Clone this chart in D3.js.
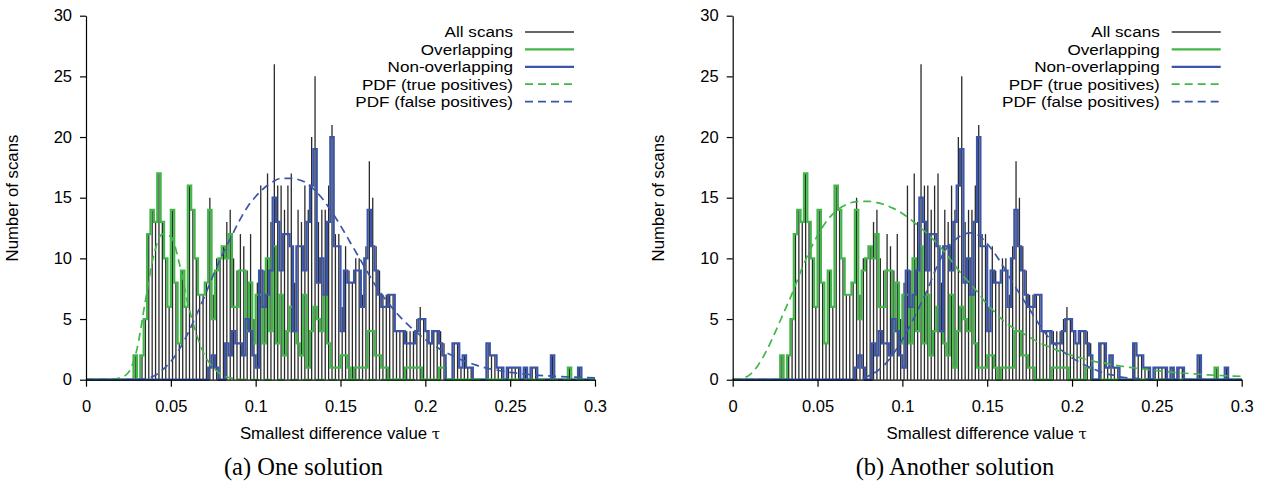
<!DOCTYPE html>
<html><head><meta charset="utf-8">
<script src="https://cdn.jsdelivr.net/npm/d3@7"></script>
<style>
body{margin:0;background:#fff;}
svg{display:block;}
</style></head>
<body>
<svg id="c" width="1269" height="482"></svg>
<script>
// ---- histogram bins (0.002 wide, first bin starts at 0.026) ----
const binStart = 0.026;
const binWidth = 0.002;

// Overlapping scans per bin
const overlapping = [
 0,2,0,2,5,12,14,13,17,13,
 10,6,14,8,3,9,6,16,14,10,
 7,7,8,14,5,9,10,11,10,12,
 6,6,9,9,4,8,3,7,7,3,
 10,4,11,3,7,2,4,6,4,3,
 2,7,1,4,6,5,4,7,3,1,
 1,1,2,2,1,0,1,1,1,1,
 4,4,2,2,1,1,0,0,0,0,
 0,1,1,1,1,1,0,0,0,0,
 0,1,1,0,0,0,0,0,0,0,
 0,0,0,0,0,0,0,0,0,0,
 0,0,0,0,0,0,0,0,0,0,
 0,0,0,0,0,0,0,0,0,1,
 0,0,0,0];
// Non-overlapping scans per bin
const nonOverlapping = [
 0,0,0,0,0,0,0,0,0,0,
 0,0,0,0,0,0,0,0,0,0,
 0,0,0,1,2,1,0,0,3,2,
 4,3,3,2,5,4,2,1,9,6,
 7,9,15,13,9,12,12,11,4,11,
 11,9,13,16,19,8,10,7,13,20,
 11,11,4,9,8,8,9,9,6,10,
 14,11,9,7,6,6,7,7,4,4,
 4,3,3,3,4,5,5,4,3,4,
 4,3,2,0,0,3,3,1,2,1,
 1,0,0,0,0,3,2,2,1,1,
 0,1,1,1,1,0,1,0,1,1,
 0,0,0,0,2,0,0,0,0,0,
 0,0,1,0];
// All scans per bin
const allScans = [
 0,2,0,2,5,12,14,13,17,13,
 10,6,14,8,3,9,6,16,14,10,
 7,7,8,15,7,10,10,11,13,14,
 10,9,12,11,9,12,5,8,16,9,
 17,13,26,16,16,14,16,17,8,14,
 13,16,14,20,25,13,14,14,16,21,
 12,12,6,11,9,8,10,10,7,11,
 18,15,11,9,7,7,7,7,4,4,
 4,4,4,4,5,6,5,4,3,4,
 4,4,3,0,0,3,3,1,2,1,
 1,0,0,0,0,3,2,2,1,1,
 0,1,1,1,1,0,1,0,1,1,
 0,0,0,0,2,0,0,0,0,1,
 0,0,1,0];

// ---- fitted PDF curves, sampled ----
const pdfX = [0,0.005,0.01,0.015,0.02,0.025,0.03,0.035,0.04,0.045,0.05,0.055,0.06,0.065,0.07,0.075,0.08,0.085,0.09,0.095,
 0.1,0.105,0.11,0.115,0.12,0.125,0.13,0.135,0.14,0.145,0.15,0.155,0.16,0.165,0.17,0.175,0.18,0.185,0.19,0.195,
 0.2,0.205,0.21,0.215,0.22,0.225,0.23,0.235,0.24,0.245,0.25,0.255,0.26,0.265,0.27,0.275,0.28,0.285,0.29,0.295,0.3];
// (a) One solution
const pdfTrueA = [0,0,0,0.02,0.15,0.6,2.5,6.5,10.3,12.0,11.8,9.6,6.3,3.8,2.0,1.0,0.4,0.15,0.05,0.02,
 0,0,0,0,0,0,0,0,0,0,0,0,0,0,0,0,0,0,0,0,
 0,0,0,0,0,0,0,0,0,0,0,0,0,0,0,0,0,0,0,0,0];
const pdfFalseA = [0,0,0,0,0,0,0.02,0.08,0.3,0.8,1.5,2.5,3.8,5.3,6.9,8.6,10.2,11.6,13.0,14.2,
 15.1,15.8,16.3,16.6,16.6,16.5,16.2,15.6,14.8,13.8,12.7,11.5,10.3,9.1,7.9,6.9,6.0,5.2,4.5,3.9,
 3.3,2.85,2.4,2.05,1.7,1.45,1.2,1.0,0.85,0.72,0.6,0.52,0.45,0.38,0.33,0.29,0.25,0.22,0.2,0.17,0.15];
// (b) Another solution
const pdfTrueB = [0,0.1,0.4,1.2,2.4,3.9,5.5,7.1,8.9,10.5,11.9,13.0,13.8,14.3,14.6,14.7,14.7,14.6,14.4,14.1,
 13.7,13.2,12.6,12.0,11.3,10.5,9.6,8.7,7.9,7.1,6.2,5.5,4.8,4.3,3.9,3.5,3.1,2.8,2.5,2.2,
 2.0,1.8,1.6,1.45,1.35,1.2,1.1,1.0,0.9,0.82,0.75,0.67,0.6,0.55,0.5,0.45,0.4,0.36,0.33,0.3,0.28];
const pdfFalseB = [0,0,0,0,0,0,0,0,0,0,0,0,0,0,0,0.05,0.3,0.7,1.3,2.2,
 3.3,4.6,6.0,7.5,9.2,10.6,11.4,11.9,12.1,11.9,11.2,10.3,9.2,8.0,6.9,5.8,4.7,3.7,2.9,2.3,
 1.8,1.4,1.05,0.75,0.5,0.35,0.2,0.13,0.08,0.05,0.03,0.02,0,0,0,0,0,0,0,0,0];

// ---- ticks / labels ----
const xTicks = [0,0.05,0.1,0.15,0.2,0.25,0.3];
const xTickLabels = ["0","0.05","0.1","0.15","0.2","0.25","0.3"];
const yTicks = [0,5,10,15,20,25,30];
const legendLabels = ["All scans","Overlapping","Non-overlapping","PDF (true positives)","PDF (false positives)"];
const captions = ["(a) One solution","(b) Another solution"];

const GREEN = "#43b649", BLUE = "#3b55a8", BLACK = "#2a2a2a";
const FONT = "'Liberation Sans', Arial, Helvetica, sans-serif";

const svg = d3.select("#c");

function panel(left, pdfTrue, pdfFalse, caption, capX, ylabX) {
  const x = d3.scaleLinear().domain([0, 0.3]).range([left, left + 509]);
  const y = d3.scaleLinear().domain([0, 30]).range([379.7, 15.7]);
  const g = svg.append("g");

  // impulses: all scans
  const bins = allScans.map((v, i) => ({x0: binStart + i * binWidth, v}));
  g.append("g").selectAll("line").data(bins.filter(d => d.v > 0)).join("line")
    .attr("x1", d => x(d.x0 + binWidth / 2)).attr("x2", d => x(d.x0 + binWidth / 2))
    .attr("y1", y(0)).attr("y2", d => y(d.v))
    .attr("stroke", BLACK).attr("stroke-width", 1.3);

  // step outlines
  function stepPts(arr) {
    const pts = [[0, 0]];
    pts.push([binStart, 0]);
    arr.forEach((v, i) => pts.push([binStart + i * binWidth, v]));
    const end = binStart + arr.length * binWidth;
    pts.push([end, arr[arr.length - 1]]);
    pts.push([end, 0]);
    pts.push([0.3, 0]);
    return pts;
  }
  const step = d3.line().x(d => x(d[0])).y(d => y(d[1])).curve(d3.curveStepAfter);
  g.append("path").attr("d", step(stepPts(overlapping))).attr("fill", "none")
    .attr("stroke", GREEN).attr("stroke-width", 2.2).attr("stroke-linejoin", "miter");
  g.append("path").attr("d", step(stepPts(nonOverlapping))).attr("fill", "none")
    .attr("stroke", BLUE).attr("stroke-width", 2.2).attr("stroke-linejoin", "miter");

  // pdf curves
  const curve = d3.line().x((d, i) => x(pdfX[i])).y(d => y(d)).curve(d3.curveMonotoneX);
  g.append("path").attr("d", curve(pdfTrue)).attr("fill", "none")
    .attr("stroke", GREEN).attr("stroke-width", 1.7).attr("stroke-dasharray", "8,5");
  g.append("path").attr("d", curve(pdfFalse)).attr("fill", "none")
    .attr("stroke", BLUE).attr("stroke-width", 1.7).attr("stroke-dasharray", "8,5");

  // axes
  const xa = g.append("g").attr("transform", `translate(0,${y(0)})`)
    .call(d3.axisBottom(x).tickValues(xTicks).tickFormat((d, i) => xTickLabels[i]).tickSize(7).tickSizeOuter(0).tickPadding(14));
  const ya = g.append("g").attr("transform", `translate(${left},0)`)
    .call(d3.axisLeft(y).tickValues(yTicks).tickSize(6).tickSizeOuter(0).tickPadding(8));
  [xa, ya].forEach(a => {
    a.selectAll("path").attr("stroke", "#000").attr("stroke-width", 1.2);
    a.selectAll("line").attr("stroke", "#000").attr("stroke-width", 1.2);
    a.selectAll("text").attr("font-family", FONT).attr("font-size", 16.5).attr("fill", "#000");
  });

  // axis titles
  const xl = g.append("text").attr("x", left + 254).attr("y", 439).attr("text-anchor", "middle")
    .attr("font-family", FONT).attr("font-size", 16.8).text("Smallest difference value ");
  xl.append("tspan").attr("font-family", "'DejaVu Serif', serif").attr("font-size", 15).text("τ");
  g.append("text").attr("transform", `translate(${ylabX},198) rotate(-90)`).attr("text-anchor", "middle")
    .attr("font-family", FONT).attr("font-size", 16.8).text("Number of scans");

  // legend (text slightly widened horizontally so rows stay clear of each other)
  const lg = g.append("g");
  const textRight = left + 427, lx1 = left + 439, lx2 = left + 488;
  legendLabels.forEach((t, i) => {
    const yy = 32 + i * 17.4;
    lg.append("text").attr("transform", `translate(${textRight},${yy}) scale(1.14,1)`)
      .attr("dy", "0.36em").attr("text-anchor", "end")
      .attr("font-family", FONT).attr("font-size", 15).text(t);
    const ln = lg.append("line").attr("x1", lx1).attr("x2", lx2).attr("y1", yy).attr("y2", yy);
    if (i === 0) ln.attr("stroke", "#333").attr("stroke-width", 1.3);
    if (i === 1) ln.attr("stroke", GREEN).attr("stroke-width", 2.2);
    if (i === 2) ln.attr("stroke", BLUE).attr("stroke-width", 2.2);
    if (i === 3) ln.attr("stroke", GREEN).attr("stroke-width", 1.7).attr("stroke-dasharray", "8,5");
    if (i === 4) ln.attr("stroke", BLUE).attr("stroke-width", 1.7).attr("stroke-dasharray", "8,5");
  });

  // caption
  g.append("text").attr("x", capX).attr("y", 475).attr("text-anchor", "middle")
    .attr("font-family", "'Liberation Serif', 'Times New Roman', serif").attr("font-size", 24.5).text(caption);
}

panel(86, pdfTrueA, pdfFalseA, captions[0], 303.5, 18);
panel(732.7, pdfTrueB, pdfFalseB, captions[1], 955, 664);
</script>
</body></html>
